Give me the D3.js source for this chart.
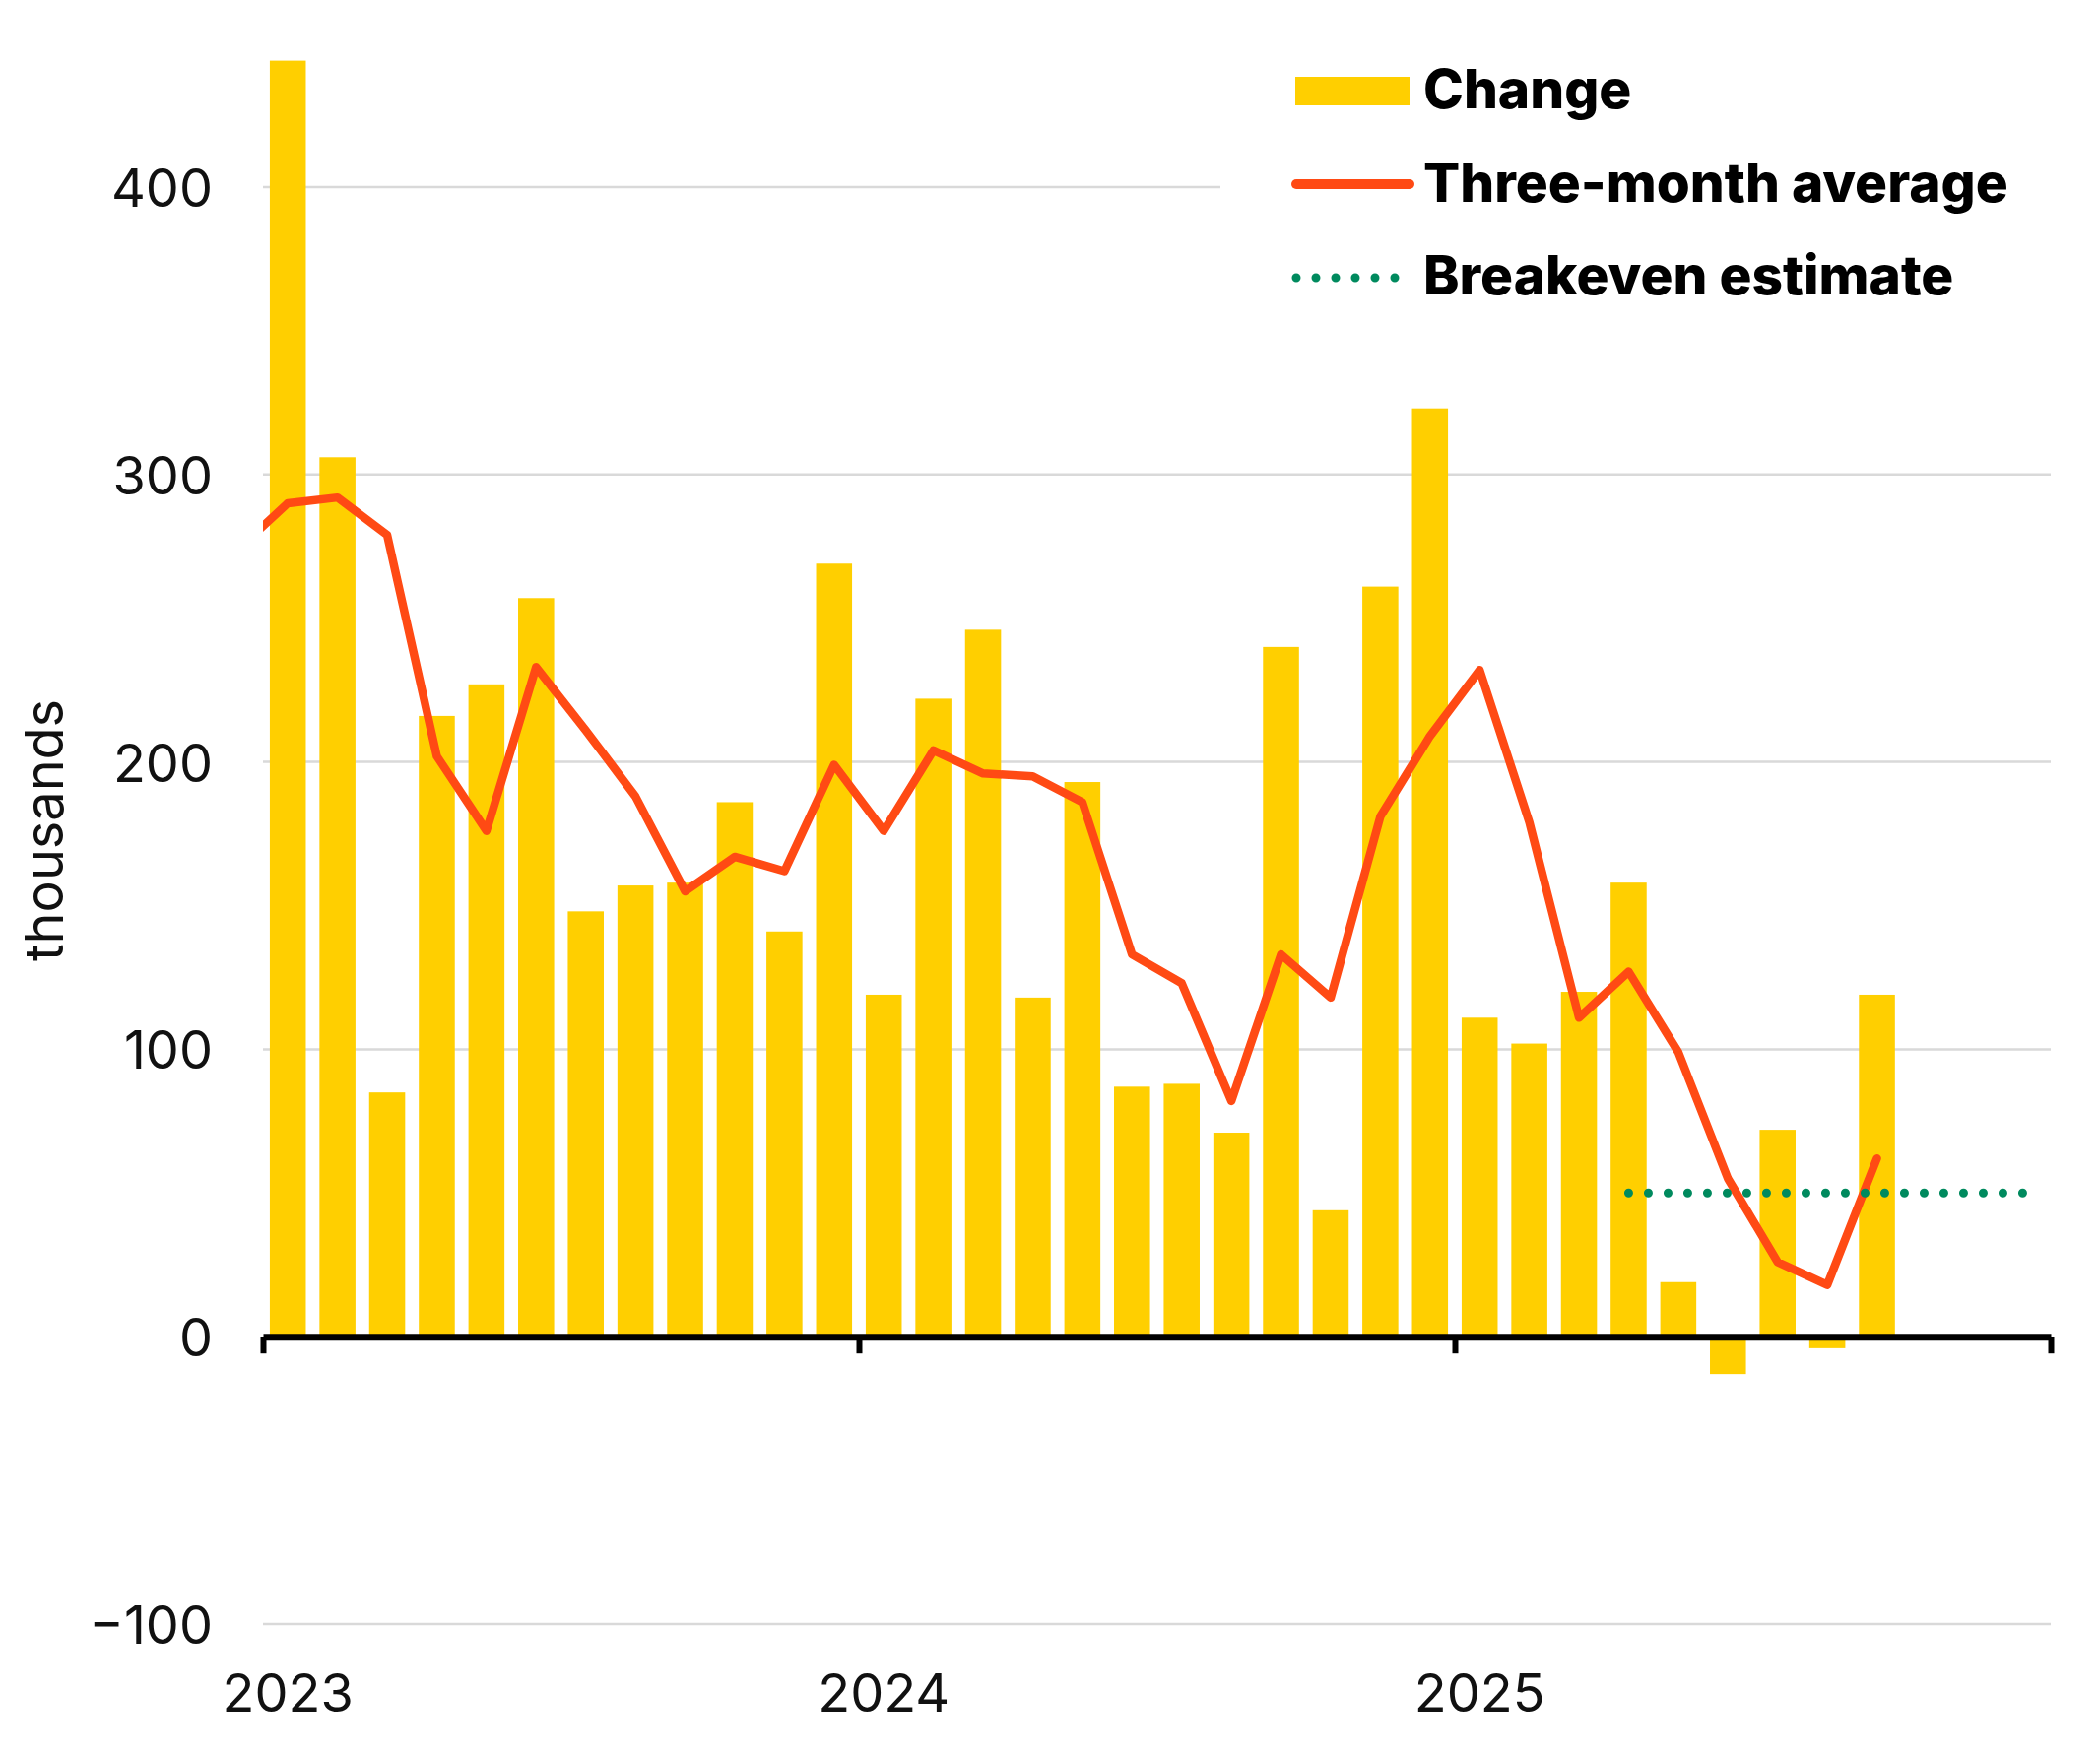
<!DOCTYPE html>
<html>
<head>
<meta charset="utf-8">
<script src="https://cdn.jsdelivr.net/npm/d3@7"></script>
<style>
    html, body { margin: 0; padding: 0; background: #ffffff; }
    svg { display: block; }
    text { font-family: Inter, 'Noto Sans', 'DejaVu Sans', sans-serif; }
</style>
</head>
<body>
<div id="chart"></div>
<script>
//monthly categories for the bars
var months = [
    '2023-01', '2023-02', '2023-03', '2023-04', '2023-05', '2023-06',
    '2023-07', '2023-08', '2023-09', '2023-10', '2023-11', '2023-12',
    '2024-01', '2024-02', '2024-03', '2024-04', '2024-05', '2024-06',
    '2024-07', '2024-08', '2024-09', '2024-10', '2024-11', '2024-12',
    '2025-01', '2025-02', '2025-03', '2025-04', '2025-05', '2025-06',
    '2025-07', '2025-08', '2025-09'
];

//monthly change, thousands
var change = [
    444, 306, 85, 216, 227, 257, 148, 157, 158, 186, 141, 269,
    119, 222, 246, 118, 193, 87, 88, 71, 240, 44, 261, 323,
    111, 102, 120, 158, 19, -13, 72, -4, 119
];

//three-month average (starts one month earlier, clipped at the left edge)
var avgMonths = ['2022-12'].concat(months);
var avgValues = [
    274,
    290, 292, 279, 202, 176, 233, 211, 188, 155, 167, 162, 199,
    176, 204, 196, 195, 186, 133, 123, 82, 133, 118, 181, 209,
    232, 179, 111, 127, 99, 55, 26, 18, 62
];

//breakeven estimate
var breakevenMonths = ['2025-04', '2025-12'];
var breakevenValues = [50, 50];

//axis labels
var yearLabels = ['2023', '2024', '2025'];
var yearTicks = ['2023-01', '2024-01', '2025-01', '2026-01'];
var yTicks = [-100, 0, 100, 200, 300, 400];
var legendLabels = ['Change', 'Three-month average', 'Breakeven estimate'];

(function () {
    //declare needed variables
    var width = 2132,
        height = 1788,
        plotLeft = 267,
        plotRight = 2082,
        barColor = '#FFCF00',
        lineColor = '#FF4A14',
        dotColor = '#008A5E',
        gridColor = '#D9D9D9',
        textColor = '#111111',
        fontSize = 54;

    //converts 'yyyy-mm' into a month index from jan 2023
    function monthIndex(m) {
        var p = m.split('-');
        return (+p[0] - 2023) * 12 + (+p[1] - 1);
    }

    //scales
    var x = d3.scaleLinear().domain([0, 36]).range([plotLeft, plotRight]);
    var y = d3.scaleLinear().domain([-100, 400]).range([1649, 190]);
    var barWidth = (x(1) - x(0)) * 0.725;

    var svg = d3.select('#chart').append('svg')
        .attr('width', width)
        .attr('height', height)
        .attr('viewBox', '0 0 ' + width + ' ' + height);

    svg.append('rect').attr('width', width).attr('height', height).attr('fill', '#ffffff');

    //clip for the average line
    svg.append('clipPath').attr('id', 'plotClip')
        .append('rect')
        .attr('x', plotLeft).attr('y', 0)
        .attr('width', plotRight - plotLeft).attr('height', height);

    //gridlines (the top one stops short of the legend)
    svg.append('g').selectAll('line')
        .data(yTicks.filter(function (d) { return d !== 0; }))
        .enter()
        .append('line')
        .attr('x1', plotLeft)
        .attr('x2', function (d) { return d === 400 ? 1239 : plotRight; })
        .attr('y1', function (d) { return y(d); })
        .attr('y2', function (d) { return y(d); })
        .attr('stroke', gridColor)
        .attr('stroke-width', 2.5);

    //bars
    svg.append('g').selectAll('rect')
        .data(months)
        .enter()
        .append('rect')
        .attr('x', function (d) { return x(monthIndex(d) + 0.5) - barWidth / 2; })
        .attr('width', barWidth)
        .attr('y', function (d, i) { return y(Math.max(0, change[i])); })
        .attr('height', function (d, i) { return Math.abs(y(change[i]) - y(0)); })
        .attr('fill', barColor);

    //x axis with year ticks
    var xAxis = d3.axisBottom(x)
        .tickValues(yearTicks.map(monthIndex))
        .tickSize(17)
        .tickSizeOuter(0)
        .tickFormat('');
    var xAxisG = svg.append('g')
        .attr('transform', 'translate(0,' + y(0) + ')')
        .call(xAxis);
    xAxisG.select('.domain').attr('stroke', '#000').attr('stroke-width', 7);
    xAxisG.selectAll('.tick line').attr('stroke', '#000').attr('stroke-width', 6);

    //year labels centred on january
    svg.append('g').selectAll('text')
        .data(yearLabels)
        .enter()
        .append('text')
        .attr('x', function (d) { return x(monthIndex(d + '-01') + 0.5); })
        .attr('y', 1738)
        .attr('text-anchor', 'middle')
        .attr('font-size', fontSize)
        .attr('fill', textColor)
        .text(function (d) { return d; });

    //y axis labels
    var yAxisG = svg.append('g')
        .attr('transform', 'translate(216,0)')
        .call(d3.axisLeft(y).tickValues(yTicks).tickSize(0).tickPadding(0).tickFormat(d3.format('d')));
    yAxisG.select('.domain').remove();
    yAxisG.selectAll('text')
        .attr('font-size', fontSize)
        .attr('font-family', "Inter, 'Noto Sans', sans-serif")
        .attr('fill', textColor)
        .attr('dy', '0.36em');

    //axis title
    svg.append('text')
        .attr('transform', 'translate(64,843) rotate(-90)')
        .attr('text-anchor', 'middle')
        .attr('font-size', fontSize)
        .attr('fill', textColor)
        .text('thousands');

    //three-month average line
    var avgLine = d3.line()
        .x(function (d) { return x(monthIndex(d) + 0.5); })
        .y(function (d, i) { return y(avgValues[i]); });
    svg.append('path')
        .attr('clip-path', 'url(#plotClip)')
        .attr('d', avgLine(avgMonths))
        .attr('fill', 'none')
        .attr('stroke', lineColor)
        .attr('stroke-width', 8.5)
        .attr('stroke-linejoin', 'round')
        .attr('stroke-linecap', 'round');

    //breakeven dotted line
    var beLine = d3.line()
        .x(function (d) { return x(monthIndex(d) + 0.5); })
        .y(function (d, i) { return y(breakevenValues[i]); });
    svg.append('path')
        .attr('d', beLine(breakevenMonths))
        .attr('fill', 'none')
        .attr('stroke', dotColor)
        .attr('stroke-width', 9)
        .attr('stroke-linecap', 'round')
        .attr('stroke-dasharray', '0,20');

    //legend
    var legend = svg.append('g');
    legend.append('rect')
        .attr('x', 1315).attr('y', 78)
        .attr('width', 116).attr('height', 29)
        .attr('fill', barColor);
    legend.append('line')
        .attr('x1', 1316).attr('x2', 1431)
        .attr('y1', 187).attr('y2', 187)
        .attr('stroke', lineColor)
        .attr('stroke-width', 10)
        .attr('stroke-linecap', 'round');
    legend.append('line')
        .attr('x1', 1316).attr('x2', 1417)
        .attr('y1', 282).attr('y2', 282)
        .attr('stroke', dotColor)
        .attr('stroke-width', 9)
        .attr('stroke-linecap', 'round')
        .attr('stroke-dasharray', '0,20');
    legend.selectAll('text')
        .data(legendLabels)
        .enter()
        .append('text')
        .attr('x', 1445)
        .attr('y', function (d, i) { return 110 + i * 94.5; })
        .attr('font-size', 55)
        .attr('font-weight', 800)
        .attr('fill', '#000')
        .text(function (d) { return d; });
})();
</script>
</body>
</html>
